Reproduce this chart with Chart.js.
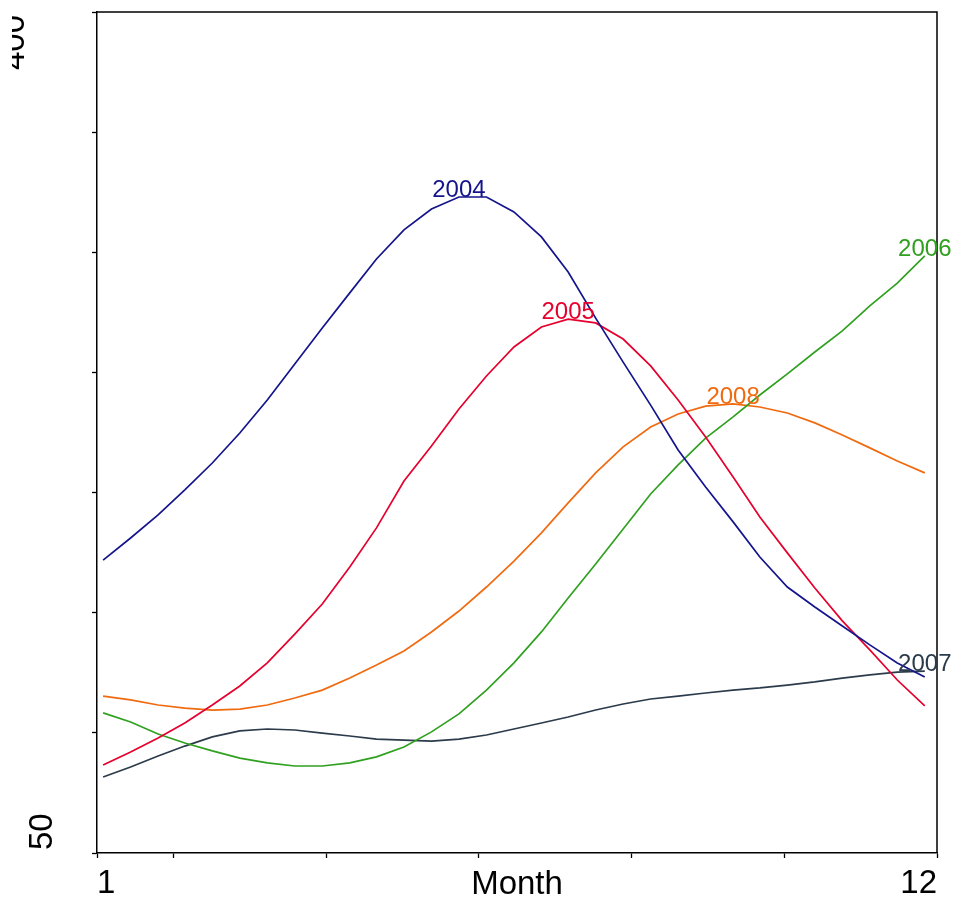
<!DOCTYPE html>
<html>
<head>
<meta charset="utf-8">
<script src="https://cdn.jsdelivr.net/npm/chart.js@4.4.0/dist/chart.umd.min.js"></script>
<style>
  body { margin: 0; background: #fff; }
  #wrap { width: 958px; height: 899px; }
</style>
</head>
<body>
<div id="wrap"><canvas id="myChart"></canvas></div>
<script>
// smoothed monthly curves, 31 points each
const months = [1.08, 1.44, 1.80, 2.15, 2.51, 2.87, 3.23, 3.59, 3.95, 4.31, 4.66,
    5.02, 5.38, 5.74, 6.10, 6.46, 6.82, 7.17, 7.53, 7.89, 8.25, 8.61, 8.97, 9.33,
    9.68, 10.04, 10.40, 10.76, 11.12, 11.48, 11.84];

const years = ['2004', '2005', '2006', '2007', '2008'];

const y2004 = [171.9, 181.1, 190.7, 201.1, 212.3, 224.8, 238.5, 253.5, 268.5, 283.1, 297.2,
    309.3, 318.0, 323.0, 323.0, 316.8, 306.4, 291.8, 272.6, 254.3, 236.4, 217.7, 202.3, 187.8,
    173.2, 160.7, 152.4, 144.5, 136.6, 129.1, 123.2];
const y2005 = [86.6, 92.0, 97.9, 104.1, 111.6, 119.5, 129.1, 141.1, 153.6, 169.0, 185.3,
    204.8, 219.4, 234.8, 248.5, 260.6, 268.9, 272.2, 270.6, 263.9, 252.7, 238.5, 223.1, 206.5,
    189.8, 174.9, 160.3, 146.6, 134.5, 122.0, 111.2];
const y2006 = [108.3, 104.5, 99.5, 95.8, 92.5, 89.5, 87.5, 86.2, 86.2, 87.5, 90.0,
    94.1, 100.4, 107.9, 117.8, 129.1, 142.0, 156.1, 170.3, 184.8, 199.4, 211.5, 222.7, 231.5,
    240.6, 249.4, 258.5, 267.3, 277.7, 287.2, 298.5];
const y2007 = [81.6, 85.8, 90.4, 94.5, 98.3, 100.8, 101.6, 101.2, 99.9, 98.7, 97.4,
    97.0, 96.6, 97.4, 99.1, 101.6, 104.1, 106.6, 109.5, 112.0, 114.1, 115.3, 116.6, 117.8,
    118.7, 119.9, 121.2, 122.8, 124.1, 125.3, 125.7];
const y2008 = [115.3, 113.7, 111.6, 110.3, 109.5, 109.9, 111.6, 114.5, 117.8, 122.8, 128.2,
    134.1, 142.0, 150.7, 160.7, 171.5, 183.2, 195.7, 208.2, 219.0, 227.3, 232.7, 236.0, 236.9,
    235.6, 233.1, 229.0, 224.0, 218.6, 213.1, 208.2];

const xTicks = [1, 2, 4, 6, 8, 10, 12];
const xTickLabels = {1: '1', 12: '12'};
const yTickLabels = ['50', '400'];
const xTitle = 'Month';

const series = [y2004, y2005, y2006, y2007, y2008];
const colors = ['#14148c', '#e5002d', '#30a020', '#2b3b4b', '#f06a10'];
const FONT = '"Liberation Sans", Arial, sans-serif';

const datasets = years.map((yr, k) => ({
    label: yr,
    data: months.map((m, i) => ({x: m, y: series[k][i]})),
    borderColor: colors[k],
    borderWidth: 1.7,
    pointRadius: 0,
    tension: 0,
    fill: false
}));

// frame, y labels, axis title and year labels at each curve's peak
const decor = {
    id: 'decor',
    afterDatasetsDraw(chart) {
        const ctx = chart.ctx;
        const a = chart.chartArea;
        const ys = chart.scales.y;
        ctx.save();
        ctx.strokeStyle = '#000';
        ctx.lineWidth = 1.5;
        ctx.beginPath();
        ctx.moveTo(a.left, a.top);
        ctx.lineTo(a.right, a.top);
        ctx.lineTo(a.right, a.bottom);
        ctx.stroke();

        ctx.font = '24px ' + FONT;
        ctx.textAlign = 'center';
        ctx.textBaseline = 'alphabetic';
        chart.data.datasets.forEach((ds, k) => {
            const vals = series[k];
            let best = 0;
            for (let i = 1; i < vals.length; i++) {
                if (vals[i] > vals[best]) best = i;
            }
            const pt = chart.getDatasetMeta(k).data[best];
            ctx.fillStyle = colors[k];
            ctx.fillText(ds.label, pt.x, pt.y);
        });

        ctx.fillStyle = '#000';
        ctx.font = '33px ' + FONT;
        ctx.fillText(xTitle, (a.left + a.right) / 2, 894);

        // rotated y labels
        ctx.save();
        ctx.translate(52, ys.getPixelForValue(50) - 3);
        ctx.rotate(-Math.PI / 2);
        ctx.textAlign = 'left';
        ctx.fillText(yTickLabels[0], 0, 0);
        ctx.restore();

        ctx.save();
        ctx.beginPath();
        ctx.rect(12, 0, 100, 120);
        ctx.clip();
        ctx.translate(24, ys.getPixelForValue(400) + 3);
        ctx.rotate(-Math.PI / 2);
        ctx.textAlign = 'right';
        ctx.fillText(yTickLabels[1], 0, 0);
        ctx.restore();

        ctx.restore();
    }
};

const config = {
    type: 'line',
    data: { datasets },
    options: {
        responsive: true,
        maintainAspectRatio: false,
        animation: false,
        layout: { padding: { top: 12, right: 21, left: 0, bottom: 0 } },
        plugins: {
            legend: { display: false },
            tooltip: { enabled: false },
            title: { display: false }
        },
        scales: {
            x: {
                type: 'linear',
                min: 1,
                max: 12,
                afterBuildTicks: (s) => { s.ticks = xTicks.map(v => ({value: v})); },
                afterFit: (s) => { s.height = 46; },
                grid: { drawOnChartArea: false, tickLength: 5, tickColor: '#000', tickWidth: 1.3 },
                border: { display: true, color: '#000', width: 1.5 },
                ticks: {
                    autoSkip: false,
                    maxRotation: 0,
                    align: 'inner',
                    padding: 6,
                    color: '#000',
                    font: { family: FONT, size: 33 },
                    callback: (v) => xTickLabels[v] || ''
                }
            },
            y: {
                type: 'linear',
                min: 50,
                max: 400,
                afterFit: (s) => { s.width = 97; },
                grid: { drawOnChartArea: false, tickLength: 5, tickColor: '#000', tickWidth: 1.3 },
                border: { display: true, color: '#000', width: 1.5 },
                ticks: { stepSize: 50, display: false }
            }
        }
    },
    plugins: [decor]
};

const myChart = new Chart(document.getElementById('myChart'), config);
</script>
</body>
</html>
